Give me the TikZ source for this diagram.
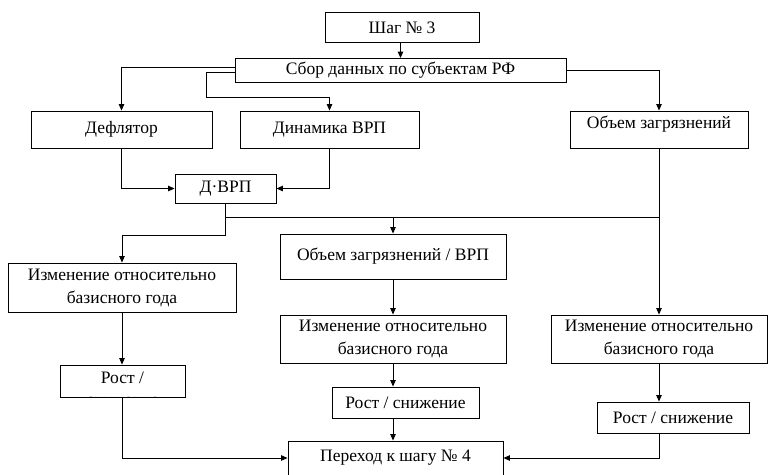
\documentclass[tikz,border=0pt]{standalone}
\usepackage{fontspec}
\setmainfont{Liberation Serif}
\usetikzlibrary{arrows.meta}
\begin{document}
\begin{tikzpicture}[x=1pt,y=-1pt,
  box/.style={draw,line width=0.9pt,rectangle,inner sep=0pt,align=center,font=\fontsize{17.5}{23}\selectfont},
  lbl/.style={inner sep=0pt,align=center,font=\fontsize{17.5}{23}\selectfont},
  arr/.style={line width=0.9pt,-{Triangle[length=6.5pt,width=5.5pt]}},
  ln/.style={line width=0.9pt}]
\useasboundingbox (0,0) rectangle (768,474);
\node[box,minimum width=154,minimum height=30] (step3) at (402,27.5) {Шаг № 3};
\node[box,minimum width=331,minimum height=24] (sbor) at (400.5,70.5) {Сбор данных по субъектам РФ};
\node[box,minimum width=181,minimum height=37] (defl) at (121.5,129.5) {Дефлятор};
\node[box,minimum width=179,minimum height=37] (dyn) at (329.5,129.5) {Динамика ВРП};
\node[box,minimum width=178,minimum height=37] (obj) at (659,129.5) {};
\node[lbl] (objt) at (659,124) {Объем загрязнений};
\node[box,minimum width=101,minimum height=29] (dvrp) at (225.5,188.5) {Д·ВРП};
\node[box,minimum width=226,minimum height=45] (ovrp) at (393,256.5) {Объем загрязнений / ВРП};
\node[box,minimum width=228,minimum height=49] (izm1) at (122,287.5) {Изменение относительно\\базисного года};
\node[box,minimum width=226,minimum height=48] (izm2) at (393,339) {Изменение относительно\\базисного года};
\node[box,minimum width=216,minimum height=48] (izm3) at (659,339) {Изменение относительно\\базисного года};
\node[box,minimum width=125,minimum height=32] (rost1) at (122.5,381) {};
\node[lbl,anchor=center] (rost1t) at (122.5,378) {Рост /};
\begin{scope}
  \clip (rost1.north west) rectangle (rost1.south east);
  \node[lbl,anchor=base] (rost1s) at (122.5,405.5) {снижение};
\end{scope}
\node[box,minimum width=147,minimum height=31] (rost2) at (405.5,402.5) {Рост / снижение};
\node[box,minimum width=152,minimum height=31] (rost3) at (673,417.5) {Рост / снижение};
\node[box,minimum width=215,minimum height=34] (per) at (395.5,458) {Переход к шагу № 4};
\coordinate (c1) at (206,97);
\coordinate (j) at (659,217);
\coordinate (c3) at (225.5,235);
\draw[arr] (step3.south -| sbor.north) -- (sbor.north);
\draw[arr] ([yshift=3pt]sbor.west) -| (defl.north);
\draw[arr] ([yshift=-2pt]sbor.west) -| (c1) -| (dyn.north);
\draw[arr] (sbor.east) -| (obj.north);
\draw[arr] (defl.south) |- (dvrp.west);
\draw[arr] (dyn.south) |- (dvrp.east);
\draw[ln] (dvrp.south) |- (j);
\draw[arr] (ovrp.north |- j) -- (ovrp.north);
\draw[arr] (dvrp.south) -- (c3) -| (izm1.north);
\draw[arr] (obj.south) -- (izm3.north);
\draw[arr] (ovrp.south) -- (izm2.north);
\draw[arr] (izm2.south) -- (izm2.south |- rost2.north);
\draw[arr] (izm2.south |- rost2.south) -- (izm2.south |- per.north);
\draw[arr] (izm1.south) -- (izm1.south |- rost1.north);
\draw[arr] (izm1.south |- rost1.south) |- (per.west);
\draw[arr] (izm3.south) -- (izm3.south |- rost3.north);
\draw[arr] (izm3.south |- rost3.south) |- (per.east);
\end{tikzpicture}
\end{document}
